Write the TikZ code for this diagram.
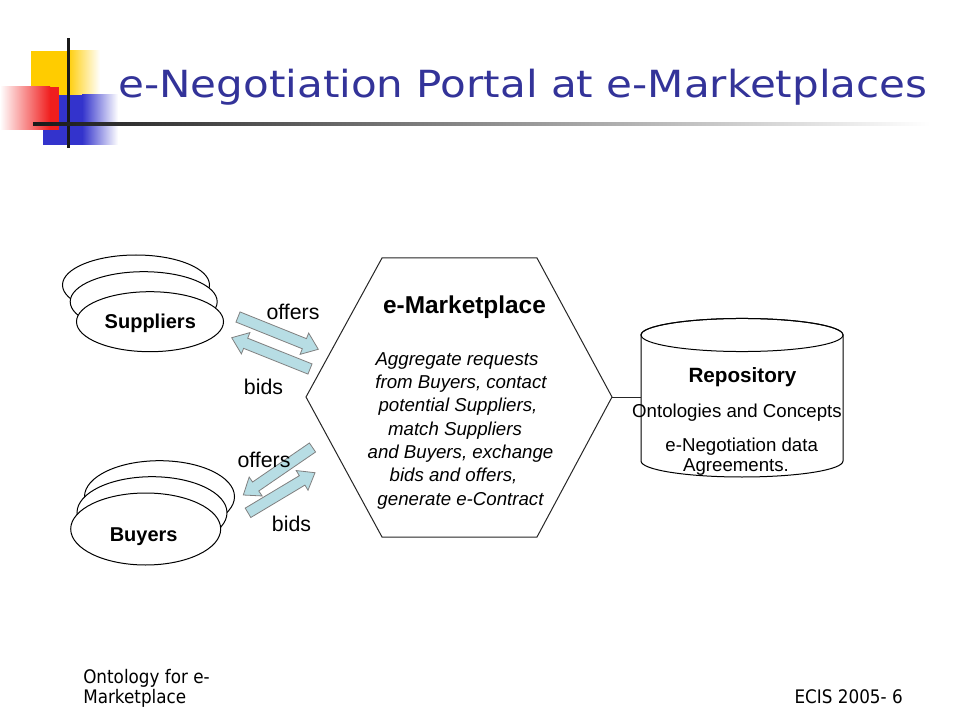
\documentclass[tikz,border=0pt]{standalone}
\usepackage{fontspec}
\setmainfont{Liberation Sans}
\newfontfamily\tahomafont[FakeStretch=0.9]{DejaVu Sans}
\usetikzlibrary{calc,shapes.geometric}
\definecolor{titleblue}{RGB}{51,51,153}
\definecolor{arrowfill}{RGB}{183,221,228}
\definecolor{logoyellow}{RGB}{255,204,0}
\definecolor{logored}{RGB}{240,30,30}
\definecolor{logoblue}{RGB}{51,51,204}
\newcommand{\blkarrow}[2]{%
  \path (#1) coordinate (ba-a) (#2) coordinate (ba-b);
  \path ($(ba-b)!11.25pt!(ba-a)$) coordinate (ba-h);
  \filldraw[blockarrow] ($(ba-a)!4.1pt!90:(ba-b)$) -- ($(ba-h)!4.1pt!90:(ba-b)$) -- ($(ba-h)!8.6pt!90:(ba-b)$) -- (ba-b) -- ($(ba-h)!8.6pt!-90:(ba-b)$) -- ($(ba-h)!4.1pt!-90:(ba-b)$) -- ($(ba-a)!4.1pt!-90:(ba-b)$) -- cycle;
}
\begin{document}
\begin{tikzpicture}[x=0.75pt,y=-0.75pt,
  ell/.style={ellipse, draw=black, fill=white, line width=0.75pt, inner sep=0pt},
  supell/.style={ell, minimum width=110.25pt, minimum height=45pt},
  buyell/.style={ell, minimum width=112.5pt, minimum height=54pt},
  boldlbl/.style={font=\bfseries\fontsize{15}{18}\selectfont, anchor=base, inner sep=0pt},
  lbl/.style={font=\fontsize{16}{19}\selectfont, anchor=base, inner sep=0pt},
  desc/.style={font=\itshape\fontsize{14}{17}\selectfont, anchor=base, inner sep=0pt},
  reptext/.style={font=\fontsize{14}{17}\selectfont, anchor=base, inner sep=0pt},
  blockarrow/.style={fill=arrowfill, draw=black!50, line width=0.6pt, line join=miter},
  hexline/.style={draw=black!85, line width=0.75pt},
  foot/.style={font=\tahomafont\fontsize{14}{17}\selectfont, inner sep=0pt}]
\useasboundingbox (0,0) rectangle (960,720);
\fill[white] (0,0) rectangle (960,720);

% logo
\fill[logoyellow] (31,51) rectangle (67,95);
\shade[left color=logoyellow, right color=white] (67,51) rectangle (100,95);
\fill[logoblue] (43,95) rectangle (82,145);
\shade[left color=logoblue, right color=white] (82,95) rectangle (118,145);
\shade[left color=white, right color=logored] (0,87) rectangle (50,130);
\fill[logored] (50,87) rectangle (59,130);
\fill[black!90] (66.8,38) rectangle (69.8,148);
\shade[left color=black!90, right color=white] (33,122.5) rectangle (930,125.5);

% title
\node[anchor=base west, inner sep=0pt, text=titleblue] (title) at (118,98)
  {\resizebox{606.75pt}{21.3pt}{\tahomafont\fontsize{27}{30}\selectfont e-Negotiation Portal at e-Marketplaces}};

% suppliers
\node[supell] (sup3) at (136,285) {};
\node[supell] (sup2) at (143.7,301.7) {};
\node[supell] (sup1) at (150,321.7) {};
\node[boldlbl] (suptext) at (150.3,328) {Suppliers};

% buyers
\node[buyell] (buy3) at (159.5,496.7) {};
\node[buyell] (buy2) at (152,512.7) {};
\node[buyell] (buy1) at (145.7,529) {};
\node[boldlbl] (buytext) at (143.7,541.5) {Buyers};

% hexagon
\coordinate (hexTL) at (382,258);
\coordinate (hexTR) at (537,258);
\coordinate (hexR) at (612,397);
\coordinate (hexBR) at (537,537);
\coordinate (hexBL) at (382,537);
\coordinate (hexL) at (306,397);
\draw[hexline] (hexTL) -- (hexTR) -- (hexR) -- (hexBR) -- (hexBL) -- (hexL) -- cycle;
\node[font=\bfseries\fontsize{18.3}{22}\selectfont, anchor=base, inner sep=0pt] (mkt) at (464.5,314) {e-Marketplace};
\node[desc] (d1) at (457,365) {Aggregate requests};
\node[desc] (d2) at (461,388.3) {from Buyers, contact};
\node[desc] (d3) at (458,411.7) {potential Suppliers,};
\node[desc] (d4) at (455,435) {match Suppliers};
\node[desc] (d5) at (460.5,458.3) {and Buyers, exchange};
\node[desc] (d6) at (453.5,481.7) {bids and offers,};
\node[desc] (d7) at (460.5,505) {generate e-Contract};

% repository cylinder
\coordinate (cylL) at (641,397);
\filldraw[fill=white, draw=black, line width=0.75pt] (641,335) -- (641,461)
  arc[start angle=180, end angle=360, x radius=75.75pt, y radius=12pt] -- (843,335)
  arc[start angle=0, end angle=180, x radius=75.75pt, y radius=12.4pt] -- cycle;
\draw[black, line width=0.75pt] (742,335) ellipse [x radius=75.75pt, y radius=12.4pt];
\draw[hexline] (hexR) -- (cylL);
\node[font=\bfseries\fontsize{15.5}{19}\selectfont, anchor=base, inner sep=0pt] (rep) at (742.5,382.7) {Repository};
\node[reptext] (r1) at (737,417) {Ontologies and Concepts};
\node[reptext] (r2) at (741.7,451) {e-Negotiation data};
\node[reptext] (r3) at (736,471.7) {Agreements.};

% block arrows
\coordinate (soA) at (238,317);
\coordinate (soB) at (318.3,349.3);
\coordinate (sbA) at (310,369);
\coordinate (sbB) at (231.7,337.7);
\coordinate (boA) at (312.5,447.5);
\coordinate (boB) at (243.3,495);
\coordinate (bbA) at (248,512.8);
\coordinate (bbB) at (315,472.7);
\blkarrow{soA}{soB}
\blkarrow{sbA}{sbB}
\blkarrow{boA}{boB}
\blkarrow{bbA}{bbB}
\node[lbl] (offers1) at (293,320) {offers};
\node[lbl] (bids1) at (263.5,394) {bids};
\node[lbl] (offers2) at (264,467) {offers};
\node[lbl] (bids2) at (291.5,531.5) {bids};

% footer
\node[foot, anchor=base west] (foot1) at (83,683) {Ontology for e-};
\node[foot, anchor=base west] (foot2) at (83,703) {Marketplace};
\node[foot, anchor=base east] (foot3) at (903,703) {ECIS 2005- 6};
\end{tikzpicture}
\end{document}
